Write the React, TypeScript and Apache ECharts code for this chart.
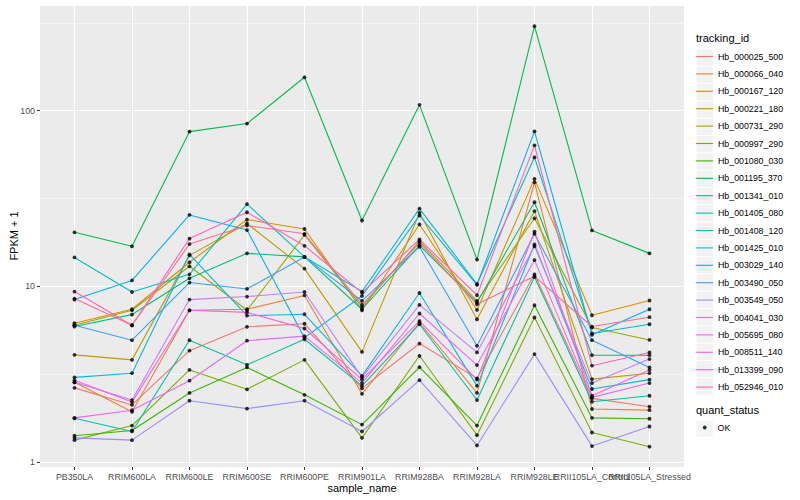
import React, { useEffect, useRef } from "react";
import * as echarts from "echarts";

const categories = [
  "PB350LA", "RRIM600LA", "RRIM600LE", "RRIM600SE", "RRIM600PE", "RRIM901LA",
  "RRIM928BA", "RRIM928LA", "RRIM928LE", "RRII105LA_Control", "RRII105LA_Stressed",
];

const seriesNames = [
  "Hb_000025_500", "Hb_000066_040", "Hb_000167_120", "Hb_000221_180", "Hb_000731_290",
  "Hb_000997_290", "Hb_001080_030", "Hb_001195_370", "Hb_001341_010", "Hb_001405_080",
  "Hb_001408_120", "Hb_001425_010", "Hb_003029_140", "Hb_003490_050", "Hb_003549_050",
  "Hb_004041_030", "Hb_005695_080", "Hb_008511_140", "Hb_013399_090", "Hb_052946_010",
];

const seriesColors = [
  "#F8766D", "#EA8331", "#D89000", "#C09B00", "#A3A500", "#7CAE00", "#39B600", "#00BB4E",
  "#00BF7D", "#00C1A3", "#00BFC4", "#00BAE0", "#00B0F6", "#35A2FF", "#9590FF", "#C77CFF",
  "#E76BF3", "#FA62DB", "#FF62BC", "#FF6C91",
];

// FPKM + 1 per sample (order of categories)
const hb000025_500 = [2.64, 2.11, 4.3, 5.88, 6.12, 2.62, 4.72, 2.99, 11.7, 2.3, 2.06];
const hb000066_040 = [2.84, 1.93, 7.3, 7.4, 8.87, 2.44, 6.2, 2.47, 39.1, 2.0, 1.97];
const hb000167_120 = [6.16, 7.4, 13.7, 24.0, 21.2, 7.3, 22.5, 7.33, 40.9, 6.84, 8.3];
const hb000221_180 = [4.07, 3.81, 15.0, 22.8, 12.6, 4.23, 26.2, 6.49, 26.8, 2.96, 3.2];
const hb000731_290 = [6.0, 7.3, 13.0, 7.3, 19.6, 7.63, 18.1, 8.25, 24.4, 5.82, 4.95];
const hb000997_290 = [1.33, 1.61, 3.34, 2.59, 3.81, 1.37, 4.02, 1.42, 6.64, 1.47, 1.22];
const hb001080_030 = [1.41, 1.51, 2.47, 3.45, 2.41, 1.63, 3.46, 1.61, 7.8, 1.78, 1.76];
const hb001195_370 = [20.3, 16.9, 76, 84.5, 155, 23.7, 108, 14.2, 303, 20.8, 15.4];
const hb001341_010 = [5.9, 6.9, 11.1, 15.4, 14.7, 7.4, 17.1, 8.08, 30.1, 4.05, 4.05];
const hb001405_080 = [1.77, 1.49, 4.93, 3.57, 4.99, 2.71, 6.08, 2.25, 11.3, 2.2, 2.38];
const hb001408_120 = [14.6, 9.28, 11.7, 29.4, 14.7, 9.33, 27.7, 10.3, 54.3, 5.39, 6.08];
const hb001425_010 = [3.03, 3.2, 15.2, 6.8, 6.93, 3.09, 9.16, 2.71, 17.3, 2.6, 2.94];
const hb003029_140 = [8.4, 10.8, 25.5, 20.9, 5.1, 8.81, 25.3, 10.2, 76.3, 5.29, 7.4];
const hb003490_050 = [6.0, 4.93, 10.5, 9.66, 14.7, 8.25, 16.8, 4.58, 19.9, 4.93, 3.45];
const hb003549_050 = [1.37, 1.33, 2.23, 2.01, 2.23, 1.49, 2.92, 1.24, 4.11, 1.23, 1.59];
const hb004041_030 = [2.84, 2.25, 8.4, 8.74, 9.28, 3.03, 7.83, 4.2, 16.9, 2.81, 3.85];
const hb005695_080 = [1.78, 1.97, 2.9, 4.9, 5.2, 2.81, 7.0, 3.56, 14.1, 2.33, 2.81];
const hb008511_140 = [2.92, 2.19, 7.3, 7.1, 5.75, 2.94, 6.34, 2.94, 20.5, 2.38, 3.34];
const hb013399_090 = [9.33, 6.0, 18.7, 26.4, 17.0, 9.21, 18.5, 8.89, 63.5, 3.53, 4.2];
const hb052946_010 = [8.51, 6.0, 17.4, 22.2, 19.9, 7.83, 17.7, 7.9, 11.4, 5.9, 6.67];

const seriesValues = [
  hb000025_500, hb000066_040, hb000167_120, hb000221_180, hb000731_290,
  hb000997_290, hb001080_030, hb001195_370, hb001341_010, hb001405_080,
  hb001408_120, hb001425_010, hb003029_140, hb003490_050, hb003549_050,
  hb004041_030, hb005695_080, hb008511_140, hb013399_090, hb052946_010,
];

const minorBreaks = [3.1623, 31.623, 316.23];
const statusNames = ["OK"];

export default function App() {
  const ref = useRef<HTMLDivElement>(null);

  useEffect(() => {
    if (!ref.current) return;
    const chart = echarts.init(ref.current, null, { renderer: "svg" });
    const font = "'Liberation Sans', Arial, sans-serif";

    const lineSeries: any[] = seriesNames.map((name, i) => ({
      name,
      type: "line",
      data: seriesValues[i].map((v, j) => [j, v]),
      symbol: "none",
      silent: true,
      z: 2,
      lineStyle: { color: seriesColors[i], width: 1.1 },
      itemStyle: { color: seriesColors[i] },
      ...(i === 0
        ? {
            markLine: {
              silent: true,
              symbol: "none",
              z: 1,
              label: { show: false },
              lineStyle: { color: "#ffffff", width: 0.55, type: "solid" },
              data: minorBreaks.map((v) => ({ yAxis: v })),
            },
          }
        : {}),
    }));

    const points: number[][] = [];
    seriesValues.forEach((vals) => vals.forEach((v, j) => points.push([j, v])));

    const allIdx = categories.map((_, i) => i);
    const evenIdx = allIdx.filter((i) => i % 2 === 0);
    const oddIdx = allIdx.filter((i) => i % 2 === 1);

    const labelBase = {
      show: true,
      margin: 5,
      fontSize: 8.8,
      color: "#4D4D4D",
      fontFamily: font,
      hideOverlap: false,
      showMinLabel: true,
      showMaxLabel: true,
      formatter: (v: number) => categories[Math.round(v)] ?? "",
    };

    const keyBoxLegend = (data: string[], top: number) => ({
      data,
      orient: "vertical",
      left: 696.5,
      top,
      padding: 0,
      z: 3,
      icon: "rect",
      itemWidth: 16.3,
      itemHeight: 16.3,
      itemGap: 1,
      selectedMode: false,
      formatter: () => "",
      itemStyle: { color: "#F2F2F2", borderWidth: 0 },
      lineStyle: { width: 0 },
      textStyle: { fontSize: 8.8, color: "rgba(0,0,0,0)", fontFamily: font },
    });

    const option: any = {
      animation: false,
      textStyle: { fontFamily: font },
      grid: {
        left: 40,
        right: 116,
        top: 5,
        bottom: 33,
        show: true,
        backgroundColor: "#EBEBEB",
        borderWidth: 0,
        containLabel: false,
        outerBoundsMode: "none",
      },
      title: [
        {
          text: "tracking_id",
          left: 696,
          top: 32,
          padding: 0,
          textStyle: { fontSize: 11, fontWeight: "normal", color: "#000", fontFamily: font },
        },
        {
          text: "quant_status",
          left: 696,
          top: 404,
          padding: 0,
          textStyle: { fontSize: 11, fontWeight: "normal", color: "#000", fontFamily: font },
        },
      ],
      legend: [
        keyBoxLegend(seriesNames, 49.5),
        keyBoxLegend(statusNames, 420.5),
        {
          data: seriesNames,
          orient: "vertical",
          left: 696,
          top: 52,
          padding: 0,
          z: 4,
          icon: "rect",
          itemWidth: 17,
          itemHeight: 1.1,
          itemGap: 8.4,
          selectedMode: false,
          textStyle: { fontSize: 8.8, color: "#000", fontFamily: font },
        },
        {
          data: statusNames,
          orient: "vertical",
          left: 702.8,
          top: 423,
          padding: 0,
          z: 4,
          itemWidth: 3.8,
          itemHeight: 3.8,
          icon: "circle",
          selectedMode: false,
          textStyle: { fontSize: 8.8, color: "#000", fontFamily: font, padding: [0, 0, 0, 6] },
        },
      ],
      xAxis: [
        {
          type: "value",
          position: "bottom",
          min: -0.6,
          max: 10.6,
          name: "sample_name",
          nameLocation: "middle",
          nameGap: 15.5,
          nameMoveOverlap: false,
          nameTextStyle: { fontSize: 11, color: "#000", fontFamily: font },
          axisLine: { show: false, onZero: false },
          axisTick: {
            show: true,
            length: 3,
            lineStyle: { color: "#333333", width: 1 },
            customValues: allIdx,
          },
          axisLabel: { ...labelBase, customValues: evenIdx },
          splitLine: { show: true, lineStyle: { color: "#ffffff", width: 1.1 } },
        },
        {
          type: "value",
          position: "bottom",
          offset: 0,
          min: -0.6,
          max: 10.6,
          axisLine: { show: false, onZero: false },
          axisTick: { show: false, customValues: oddIdx },
          axisLabel: { ...labelBase, customValues: oddIdx },
          splitLine: { show: false },
        },
      ],
      yAxis: {
        type: "log",
        logBase: 10,
        min: 0.935,
        max: 400,
        name: "FPKM + 1",
        nameLocation: "middle",
        nameGap: 21,
        nameMoveOverlap: false,
        nameTextStyle: { fontSize: 11, color: "#000", fontFamily: font },
        axisLine: { show: false, onZero: false },
        axisTick: { show: true, length: 3, lineStyle: { color: "#333333", width: 1 } },
        axisLabel: {
          show: true,
          margin: 5,
          fontSize: 8.8,
          color: "#4D4D4D",
          fontFamily: font,
          showMinLabel: false,
          showMaxLabel: false,
          formatter: (v: number) => String(Math.round(v)),
        },
        splitLine: { show: true, lineStyle: { color: "#ffffff", width: 1.1 } },
        minorSplitLine: { show: false },
      },
      series: [
        ...lineSeries,
        {
          name: "OK",
          type: "scatter",
          data: points,
          symbol: "circle",
          symbolSize: 3.8,
          silent: true,
          z: 3,
          itemStyle: { color: "#000000" },
        },
      ],
    };

    chart.setOption(option);
    return () => chart.dispose();
  }, []);

  return (
    <div
      ref={ref}
      style={{ position: "absolute", left: 0, top: 0, width: 800, height: 500 }}
    />
  );
}
